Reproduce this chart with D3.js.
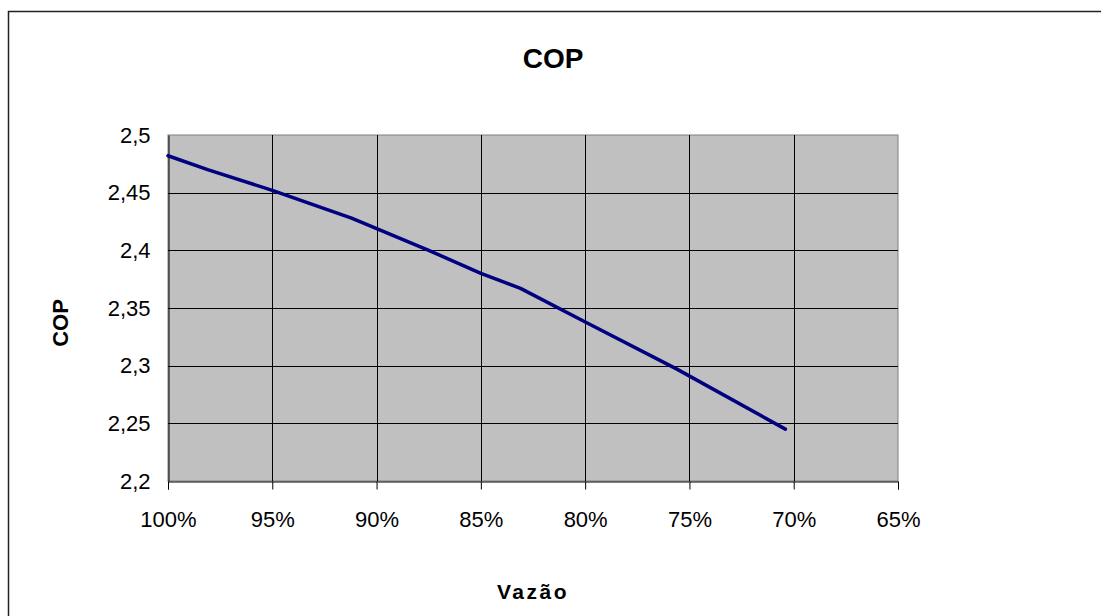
<!DOCTYPE html>
<html>
<head>
<meta charset="utf-8">
<script src="https://cdn.jsdelivr.net/npm/d3@7"></script>
<style>
  body { margin: 0; background: #fff; }
  svg { display: block; font-family: "Liberation Sans", Arial, sans-serif; }
</style>
</head>
<body>
<div id="chart"></div>
<script>
// Flow (% of nominal) and COP
const vazao = [100, 98.1, 95.0, 91.2, 87.5, 85.0, 83.1, 79.9, 75.6, 70.4];
const cop = [2.482, 2.470, 2.452, 2.428, 2.400, 2.380, 2.367, 2.337, 2.297, 2.245];
const xTicks = [100, 95, 90, 85, 80, 75, 70, 65];
const yTicks = [2.2, 2.25, 2.3, 2.35, 2.4, 2.45, 2.5];

const width = 1101, height = 616;
const plot = { left: 168, right: 898, top: 135, bottom: 481 };

const svg = d3.select('#chart').append('svg')
    .attr('width', width)
    .attr('height', height);

// outer chart frame (runs off the right and bottom edges)
svg.append('rect')
    .attr('x', 8.5).attr('y', 11.5)
    .attr('width', width).attr('height', height)
    .attr('fill', '#fff')
    .attr('stroke', '#222')
    .attr('stroke-width', 1.5);

const x = d3.scaleLinear().domain([100, 65]).range([plot.left, plot.right]);
const y = d3.scaleLinear().domain([2.2, 2.5]).range([plot.bottom, plot.top]);

const fmtY = d => d3.format('.2~f')(d).replace('.', ',');

// plot background
svg.append('rect')
    .attr('x', plot.left).attr('y', plot.top)
    .attr('width', plot.right - plot.left)
    .attr('height', plot.bottom - plot.top)
    .attr('fill', '#c0c0c0')
    .attr('stroke', '#808080')
    .attr('stroke-width', 1);

// gridlines
svg.append('g')
    .selectAll('line.h')
    .data(yTicks.filter(d => d > 2.2 && d < 2.5))
    .join('line')
    .attr('x1', plot.left).attr('x2', plot.right)
    .attr('y1', d => Math.round(y(d)) + 0.5)
    .attr('y2', d => Math.round(y(d)) + 0.5)
    .attr('stroke', '#000');

svg.append('g')
    .selectAll('line.v')
    .data(xTicks.filter(d => d < 100 && d > 65))
    .join('line')
    .attr('x1', d => Math.round(x(d)) + 0.5)
    .attr('x2', d => Math.round(x(d)) + 0.5)
    .attr('y1', plot.top).attr('y2', plot.bottom)
    .attr('stroke', '#000');

// x axis
const xAxis = svg.append('g')
    .attr('transform', `translate(0,${plot.bottom + 0.5})`)
    .call(d3.axisBottom(x).tickValues(xTicks).tickSize(8).tickPadding(22)
        .tickFormat(d => d + '%'));
xAxis.select('.domain').attr('stroke', '#000');
xAxis.selectAll('.tick line').attr('stroke', '#000');
xAxis.selectAll('text')
    .attr('font-size', 22)
    .attr('fill', '#000')
    .attr('font-family', '"Liberation Sans", Arial, sans-serif');

// y axis
const yAxis = svg.append('g')
    .attr('transform', `translate(${plot.left + 0.5},0)`)
    .call(d3.axisLeft(y).tickValues(yTicks).tickSize(0).tickPadding(18)
        .tickFormat(fmtY));
yAxis.select('.domain').attr('stroke', '#000');
yAxis.selectAll('text')
    .attr('font-size', 22)
    .attr('fill', '#000')
    .attr('font-family', '"Liberation Sans", Arial, sans-serif');

// COP line
const line = d3.line()
    .x((d, i) => x(vazao[i]))
    .y(d => y(d));

svg.append('path')
    .datum(cop)
    .attr('d', line)
    .attr('fill', 'none')
    .attr('stroke', '#000080')
    .attr('stroke-width', 3.5)
    .attr('stroke-linejoin', 'round')
    .attr('stroke-linecap', 'round');

// titles
svg.append('text')
    .attr('x', 553).attr('y', 68)
    .attr('text-anchor', 'middle')
    .attr('font-size', 28)
    .attr('font-weight', 'bold')
    .text('COP');

svg.append('text')
    .attr('transform', 'translate(68,323) rotate(-90)')
    .attr('text-anchor', 'middle')
    .attr('font-size', 22)
    .attr('font-weight', 'bold')
    .text('COP');

svg.append('text')
    .attr('x', 533).attr('y', 599)
    .attr('text-anchor', 'middle')
    .attr('font-size', 21)
    .attr('font-weight', 'bold')
    .attr('letter-spacing', 2.5)
    .text('Vazão');
</script>
</body>
</html>
